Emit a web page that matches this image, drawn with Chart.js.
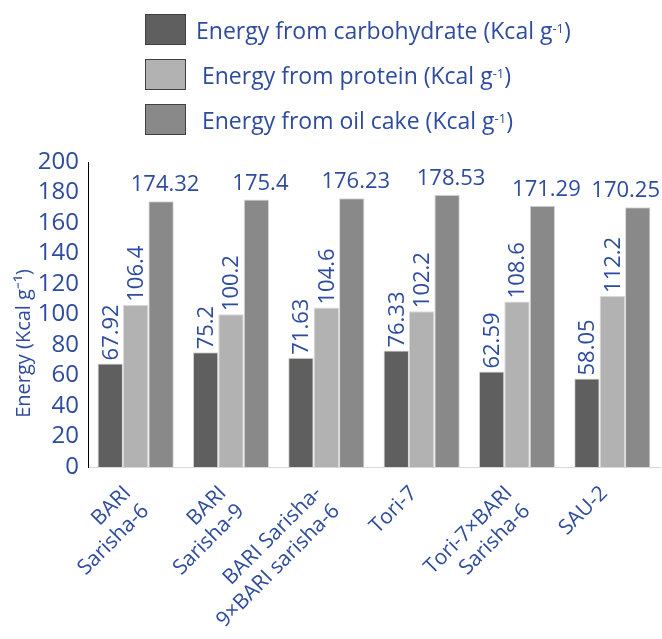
<!DOCTYPE html>
<html>
<head>
<meta charset="utf-8">
<script src="https://cdn.jsdelivr.net/npm/chart.js@4/dist/chart.umd.min.js"></script>
<style>
  html, body { margin: 0; padding: 0; background: #fff; }
  #wrap { position: relative; width: 662px; height: 639px; overflow: hidden; }
  #legend { position: absolute; left: 145px; top: 14px; font-family: "Open Sans", sans-serif; font-size: 23px; color: #2E4C9E; }
  .item { display: flex; align-items: center; height: 31px; margin-bottom: 14px; white-space: nowrap; }
  .box { width: 39px; height: 29px; border: 1px solid #404040; margin-right: 10px; flex: none; }
  .item sup { font-size: 13px; position: relative; top: -2px; }
</style>
</head>
<body>
<div id="wrap">
  <canvas id="chartEnergy" width="662" height="639"></canvas>
  <div id="legend"></div>
</div>
<script>
const varieties = [["BARI", "Sarisha-6"], ["BARI", "Sarisha-9"], ["BARI Sarisha-", "9×BARI sarisha-6"], "Tori-7", ["Tori-7×BARI", "Sarisha-6"], "SAU-2"];
const seriesNames = ["Energy from carbohydrate", "Energy from protein", "Energy from oil cake"];
const carbohydrate = [67.92, 75.2, 71.63, 76.33, 62.59, 58.05];
const protein = [106.4, 100.2, 104.6, 102.2, 108.6, 112.2];
const oilCake = [174.32, 175.4, 176.23, 178.53, 171.29, 170.25];
const yTicks = [0, 20, 40, 60, 80, 100, 120, 140, 160, 180, 200];
const yTitle = "Energy (Kcal g⁻¹)";

const textColor = "#2E4C9E";
const barColors = ["#5f5f5f", "#b2b2b2", "#898989"];

// value labels: first two series vertical, oil cake horizontal
const valueLabels = {
  id: "valueLabels",
  afterDatasetsDraw(chart) {
    const ctx = chart.ctx;
    ctx.save();
    ctx.fillStyle = textColor;
    ctx.font = '22px "Open Sans"';
    chart.data.datasets.forEach((ds, i) => {
      chart.getDatasetMeta(i).data.forEach((bar, j) => {
        const txt = String(ds.data[j]);
        if (i < 2) {
          ctx.save();
          ctx.translate(bar.x + 1, bar.y - 3);
          ctx.rotate(-Math.PI / 2);
          ctx.textAlign = "left";
          ctx.textBaseline = "middle";
          ctx.fillText(txt, 0, 0);
          ctx.restore();
        } else {
          const w = ctx.measureText(txt).width;
          let x = bar.x + 4;
          if (x + w / 2 > chart.width - 2) x = chart.width - 2 - w / 2;
          ctx.textAlign = "center";
          ctx.textBaseline = "alphabetic";
          ctx.fillText(txt, x, bar.y - 10);
        }
      });
    });
    ctx.restore();
  },
};

// y axis title, set a bit below the middle of the axis like the original
const axisTitle = {
  id: "axisTitle",
  afterDraw(chart) {
    const ctx = chart.ctx;
    const area = chart.chartArea;
    ctx.save();
    ctx.fillStyle = textColor;
    ctx.font = '20px "Open Sans"';
    ctx.translate(24, (area.top + area.bottom) / 2 + 29);
    ctx.rotate(-Math.PI / 2);
    ctx.textAlign = "center";
    ctx.textBaseline = "middle";
    ctx.fillText(yTitle, 0, 0);
    ctx.restore();
  },
};

const chart = new Chart(document.querySelector("#chartEnergy"), {
  type: "bar",
  data: {
    labels: varieties,
    datasets: [
      { label: seriesNames[0], data: carbohydrate, backgroundColor: barColors[0] },
      { label: seriesNames[1], data: protein, backgroundColor: barColors[1] },
      { label: seriesNames[2], data: oilCake, backgroundColor: barColors[2] },
    ].map((d) => ({ ...d, borderColor: "#d9d9d9", borderWidth: 1, categoryPercentage: 0.8, barPercentage: 1 })),
  },
  options: {
    responsive: false,
    animation: false,
    layout: { padding: { top: 162, right: 2, left: 0, bottom: 0 } },
    scales: {
      x: {
        grid: { display: false, drawTicks: false },
        border: { display: true, color: "#d9d9d9" },
        ticks: {
          color: textColor,
          font: { family: "Open Sans", size: 21 },
          maxRotation: 45,
          minRotation: 45,
          padding: 14,
          labelOffset: -8,
          autoSkip: false,
        },
        afterFit: (s) => { s.height = 172; },
      },
      y: {
        min: 0,
        max: 200,
        afterBuildTicks: (s) => { s.ticks = yTicks.map((v) => ({ value: v })); },
        grid: { display: false, drawTicks: false },
        border: { display: true, color: "#000" },
        ticks: { color: textColor, font: { family: "Open Sans", size: 24 }, padding: 9, autoSkip: false },
        afterFit: (s) => { s.width = 88; },
      },
    },
    plugins: {
      legend: { display: false },
      tooltip: { enabled: false },
    },
  },
  plugins: [valueLabels, axisTitle],
});

// legend built from the datasets
const legendEl = document.querySelector("#legend");
chart.data.datasets.forEach((ds, i) => {
  const item = document.createElement("div");
  item.className = "item";
  item.innerHTML = '<span class="box" style="background:' + ds.backgroundColor + '"></span>' +
    (i > 0 ? "&nbsp;" : "") + ds.label + " (Kcal g<sup>-1</sup>)";
  legendEl.appendChild(item);
});
</script>
</body>
</html>
